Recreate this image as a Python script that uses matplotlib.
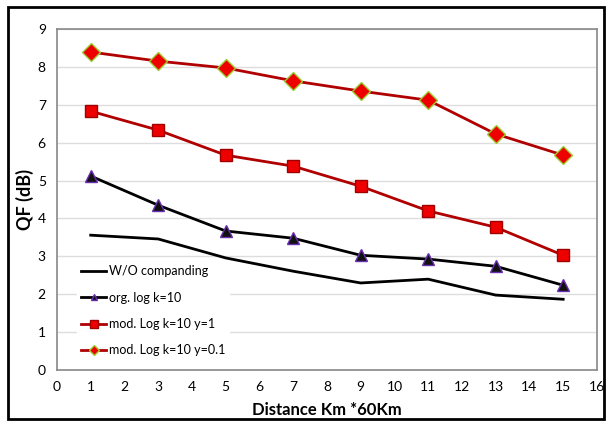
import matplotlib.pyplot as plt
from matplotlib.patches import Rectangle

# distance points (x) and QF values
distance = [1, 3, 5, 7, 9, 11, 13, 15]
wo_companding = [3.56, 3.46, 2.96, 2.61, 2.30, 2.40, 1.98, 1.87]
org_log = [5.12, 4.35, 3.67, 3.48, 3.03, 2.93, 2.74, 2.24]
mod_log_y1 = [6.83, 6.33, 5.67, 5.38, 4.85, 4.20, 3.77, 3.03]
mod_log_y01 = [8.39, 8.15, 7.97, 7.63, 7.36, 7.12, 6.23, 5.67]

labels = ['W/O companding', 'org. log k=10', 'mod. Log k=10 y=1', 'mod. Log k=10 y=0.1']
xticks = list(range(0, 17))
yticks = list(range(0, 10))

plt.rcParams['font.family'] = ['Lato', 'DejaVu Sans']

fig = plt.figure(figsize=(6.06, 4.25), dpi=100)
ax = fig.add_axes([0.094, 0.129, 0.891, 0.803])

dark_red = '#B00000'
ax.plot(distance, wo_companding, color='black', lw=2, label=labels[0])
ax.plot(distance, org_log, color='black', lw=2, marker='^', ms=8,
        mfc='#111111', mec='#6a2fb0', mew=1, label=labels[1])
ax.plot(distance, mod_log_y1, color=dark_red, lw=2, marker='s', ms=9,
        mfc='#ee0000', mec='#a00000', mew=1, label=labels[2])
ax.plot(distance, mod_log_y01, color=dark_red, lw=2, marker='D', ms=9,
        mfc='#ee0000', mec='#9acd32', mew=1, label=labels[3])

ax.set_xlim(0, 16)
ax.set_ylim(0, 9)
ax.set_xticks(xticks)
ax.set_yticks(yticks)
ax.tick_params(length=0, labelsize=10, pad=8)
ax.grid(axis='y', color='#dddddd', lw=1)
ax.set_axisbelow(True)
for s in ax.spines.values():
    s.set_color('#888888')
    s.set_linewidth(1.2)

ax.set_xlabel('Distance Km *60Km', fontsize=12, fontweight='bold', labelpad=6)
ax.set_ylabel('QF (dB)', fontsize=13, fontweight='bold', labelpad=3)

# legend sits on a white patch over the lower left grid
leg = ax.legend(loc='lower left', bbox_to_anchor=(0.025, 0.009), frameon=True,
                fontsize=9, handlelength=2.0, handletextpad=0.2,
                labelspacing=1.15, borderpad=0.35, markerscale=0.6)
leg.get_frame().set_facecolor('white')
leg.get_frame().set_edgecolor('white')
leg.get_frame().set_alpha(1)
leg.get_frame().set_boxstyle('square', pad=0)

# black frame round the whole picture
fig.patches.append(Rectangle((0.014, 0.014), 0.982, 0.97, transform=fig.transFigure,
                             fill=False, ec='black', lw=2))

fig.savefig('out.png', dpi=100)
